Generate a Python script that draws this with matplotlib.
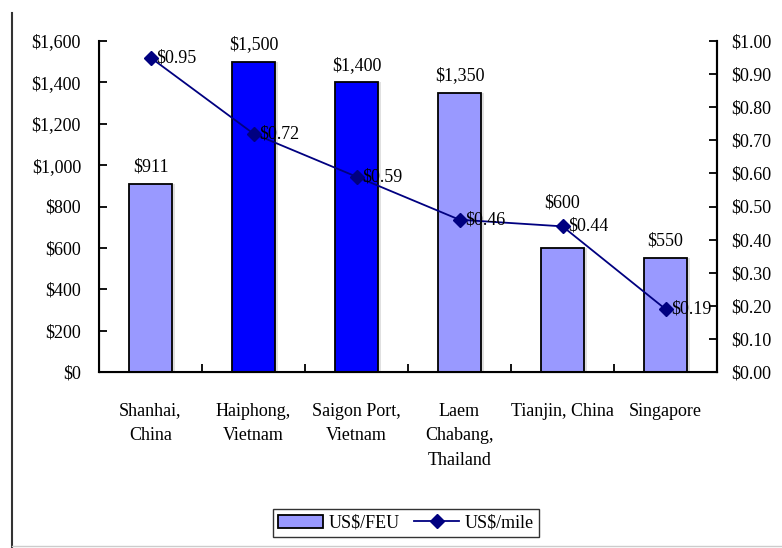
import matplotlib.pyplot as plt
from matplotlib.lines import Line2D
from matplotlib.patches import Patch
import numpy as np

# Daten
ports = ['Shanhai,\nChina', 'Haiphong,\nVietnam', 'Saigon Port,\nVietnam',
         'Laem\nChabang,\nThailand', 'Tianjin, China', 'Singapore']
feu_cost = [911, 1500, 1400, 1350, 600, 550]
mile_cost = [0.95, 0.72, 0.59, 0.46, 0.44, 0.19]
bar_colors = ['#9999FF', '#0000FF', '#0000FF', '#9999FF', '#9999FF', '#9999FF']
# Abstand der Balkenbeschriftung (pt), bei Tianjin hoeher wegen Linie
label_offset = [6, 6, 6, 6, 26, 6]

plt.rcParams['font.family'] = ['Liberation Serif', 'DejaVu Serif']
fs = 13

fig = plt.figure(figsize=(7.82, 5.48), dpi=100)
ax = fig.add_axes([99 / 782, 1 - 372 / 548, 618 / 782, 331 / 548])
x = np.arange(len(ports))

# Schatten und Balken
ax.bar(x + 0.035, feu_cost, width=0.41, color='#e0e0e0', zorder=1)
ax.bar(x, feu_cost, width=0.41, color=bar_colors, edgecolor='black',
       linewidth=1.3, zorder=2)
for xi, v, off in zip(x, feu_cost, label_offset):
    ax.annotate(f'${v:,}', (xi, v), xytext=(0, off), textcoords='offset points',
                ha='center', va='bottom', fontsize=fs)

ax.set_xlim(-0.5, len(ports) - 0.5)
ax.set_ylim(0, 1600)
ax.set_yticks(range(0, 1601, 200))
ax.set_yticklabels([f'${v:,}' for v in range(0, 1601, 200)], fontsize=fs)
ax.set_xticks(x)
ax.set_xticklabels(ports, fontsize=fs, linespacing=1.6)
ax.set_xticks(np.arange(0.5, len(ports) - 0.5), minor=True)
ax.tick_params(axis='x', which='major', length=0, pad=22)
ax.tick_params(axis='x', which='minor', direction='in', length=6, width=1.3)
ax.tick_params(axis='y', direction='in', length=6, width=1.3, pad=13)
ax.spines['top'].set_visible(False)
for s in ['left', 'bottom', 'right']:
    ax.spines[s].set_linewidth(1.5)

# Zweite Achse
ax2 = ax.twinx()
ax2.plot(x, mile_cost, color='#000080', linewidth=1.3, marker='D', markersize=7, zorder=3)
for xi, v in zip(x, mile_cost):
    ax2.annotate(f'${v:.2f}', (xi, v), xytext=(4, 0), textcoords='offset points',
                 ha='left', va='center', fontsize=fs)
ax2.set_ylim(0, 1.0)
ax2.set_yticks(np.arange(0, 1.01, 0.1))
ax2.set_yticklabels([f'${v:.2f}' for v in np.arange(0, 1.01, 0.1)], fontsize=fs)
ax2.tick_params(axis='y', direction='in', length=6, width=1.3, pad=10)
ax2.spines['top'].set_visible(False)
ax2.spines['right'].set_linewidth(1.5)

# Legende
handles = [Patch(facecolor='#9999FF', edgecolor='black', linewidth=1.3),
           Line2D([], [], color='#000080', linewidth=1.3, marker='D', markersize=7)]
fig.legend(handles, ['US$/FEU', 'US$/mile'], loc='center', bbox_to_anchor=(406 / 782, 1 - 523 / 548),
           ncol=2, frameon=True, fancybox=False, edgecolor='black', fontsize=fs,
           handlelength=2.5, columnspacing=0.8, handletextpad=0.3, borderpad=0.3)

# Rahmenlinien
fig.add_artist(Line2D([12 / 782, 12 / 782], [0, 1 - 13 / 548], color='#333333', linewidth=1.5))
fig.add_artist(Line2D([12 / 782, 1], [1 - 546 / 548, 1 - 546 / 548], color='#cccccc', linewidth=1))

fig.savefig('out.png', dpi=100)
